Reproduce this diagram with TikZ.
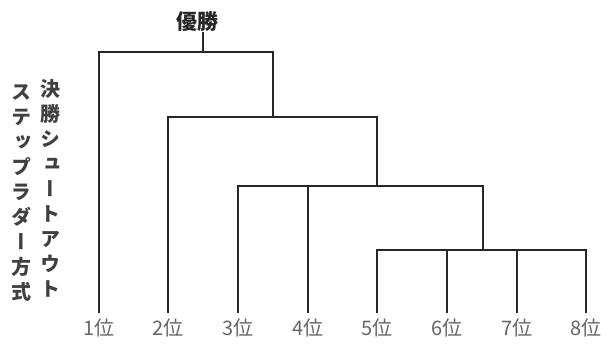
\documentclass[tikz,border=0pt]{standalone}
\usepackage{fontspec}
\newfontfamily\jp{Noto Sans CJK JP}
\newfontfamily\vjp[RawFeature=+vert]{Noto Sans CJK JP}
\begin{document}
\begin{tikzpicture}[x=1pt,y=-1pt,
  br/.style={line width=2.4pt, draw=black!85},
  lbl/.style={font=\jp\fontsize{20}{20}\selectfont, text=black!60, inner sep=0pt},
  vtxt/.style={font=\vjp\bfseries\fontsize{20}{25}\selectfont, text=black!75, align=center, inner sep=0pt},
  win/.style={font=\jp\bfseries\fontsize{21}{21}\selectfont, text=black!85, inner sep=0pt}]
\useasboundingbox (0,0) rectangle (612,361);
% labels
\node[win] (w) at (197,22) {優勝};
\node[vtxt] (colA) at (22,193) {ス\\テ\\ッ\\プ\\ラ\\ダ\\ー\\方\\式};
\node[vtxt] (colB) at (50,188) {決\\勝\\シ\\ュ\\ー\\ト\\ア\\ウ\\ト};
\foreach \i/\x in {1/99,2/168,3/238,4/308,5/377,6/447,7/517,8/586}{
  \node[lbl] (n\i) at (\x,328) {\i 位};
  \coordinate (l\i) at (\x,313);
}
% junctions
\coordinate (s) at (203,52);
\coordinate (b) at (273,52);
\coordinate (c) at (168,117);
\coordinate (d) at (377,117);
\coordinate (e) at (238,186);
\coordinate (f) at (483,186);
\coordinate (g) at (377,250);
\coordinate (h) at (586,250);
% bracket
\draw[br] (s) -- (s |- w.south);
\draw[br] (l1) |- (b) -- (b |- c);
\draw[br] (l2) |- (d) -- (d |- e);
\draw[br] (l3) |- (f) -- (f |- g);
\draw[br] (l4) -- (l4 |- e);
\draw[br] (l5) |- (h) -- (l8);
\draw[br] (l6) -- (l6 |- g);
\draw[br] (l7) -- (l7 |- g);
\end{tikzpicture}
\end{document}
